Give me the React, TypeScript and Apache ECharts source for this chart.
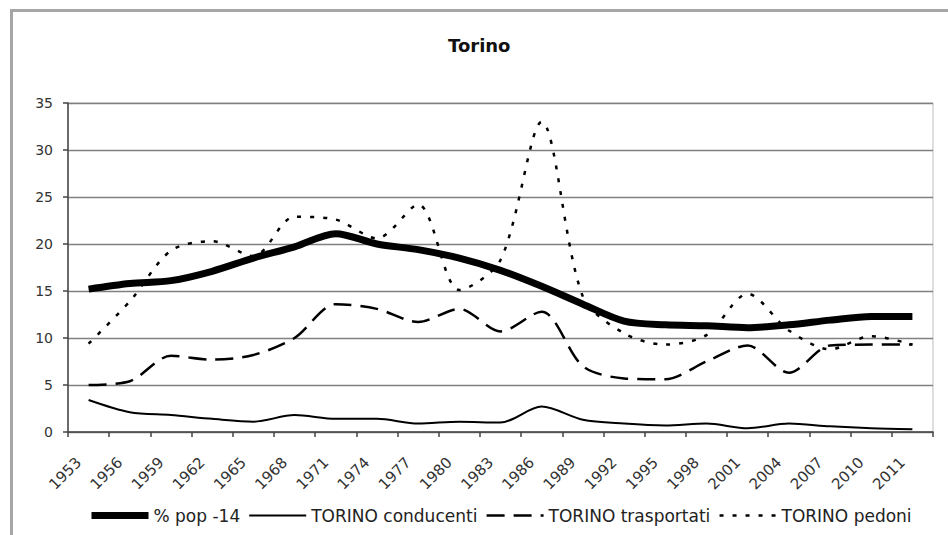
import React, { useEffect, useRef } from "react";
import * as echarts from "echarts";

const years = ["1953","1956","1959","1962","1965","1968","1971","1974","1977","1980","1983","1986","1989","1992","1995","1998","2001","2004","2007","2010","2011"];
const pop14 = [15.2, 15.8, 16.1, 17.1, 18.5, 19.7, 21.1, 20.0, 19.4, 18.5, 17.2, 15.5, 13.6, 11.8, 11.4, 11.3, 11.1, 11.4, 11.9, 12.3, 12.3];
const conducenti = [3.4, 2.1, 1.8, 1.4, 1.1, 1.8, 1.4, 1.4, 0.9, 1.1, 1.0, 2.7, 1.3, 0.9, 0.7, 0.9, 0.4, 0.9, 0.6, 0.4, 0.3];
const trasportati = [5.0, 5.4, 8.1, 7.7, 8.2, 10.0, 13.6, 13.1, 11.7, 13.1, 10.7, 12.8, 7.0, 5.7, 5.6, 7.5, 9.2, 6.3, 9.2, 9.3, 9.3];
const pedoni = [9.4, 13.9, 19.3, 20.3, 18.7, 22.9, 22.6, 20.6, 24.2, 15.1, 18.3, 33.0, 14.4, 10.5, 9.3, 10.3, 14.7, 10.8, 8.8, 10.2, 9.3];
const yTicks = { min: 0, max: 35, interval: 5 };

const FONT = "DejaVu Sans";

export default function App() {
  const ref = useRef<HTMLDivElement>(null);
  useEffect(() => {
    if (!ref.current) return;
    const chart = echarts.init(ref.current, null, { renderer: "svg" });
    chart.setOption({
      animation: false,
      backgroundColor: "#ffffff",
      title: {
        text: "Torino",
        left: 443,
        top: 31,
        textStyle: { fontFamily: FONT, fontSize: 18, fontWeight: "bold", color: "#111" },
      },
      graphic: [
        {
          type: "rect",
          shape: { x: 11.5, y: 10.5, width: 960, height: 560 },
          style: { fill: "none", stroke: "#a6a6a6", lineWidth: 3 },
          silent: true,
        },
      ],
      grid: { left: 68, right: 15, top: 103, bottom: 103, show: true, borderColor: "#bdbdbd", borderWidth: 1 },
      legend: {
        left: 88,
        top: 507,
        padding: 0,
        itemWidth: 57,
        itemHeight: 14,
        itemGap: 8,
        itemStyle: { opacity: 0 },
        lineStyle: { width: "inherit" },
        textStyle: { fontFamily: FONT, fontSize: 17, color: "#222" },
        data: ["% pop -14", "TORINO conducenti", "TORINO trasportati", "TORINO pedoni"],
      },
      xAxis: {
        type: "category",
        data: years,
        boundaryGap: true,
        axisLine: { lineStyle: { color: "#444", width: 1.5 } },
        axisTick: { show: true, length: 5, lineStyle: { color: "#444", width: 1.5 } },
        axisLabel: {
          rotate: 45,
          interval: 0,
          margin: 18,
          padding: [0, 14, 0, 0],
          fontFamily: FONT,
          fontSize: 15,
          color: "#333",
        },
      },
      yAxis: {
        type: "value",
        min: yTicks.min,
        max: yTicks.max,
        interval: yTicks.interval,
        axisLine: { show: true, lineStyle: { color: "#444", width: 1.5 } },
        axisTick: { show: true, length: 5, lineStyle: { color: "#444", width: 1.5 } },
        axisLabel: { margin: 15, fontFamily: FONT, fontSize: 14, color: "#333" },
        splitLine: { lineStyle: { color: "#808080", width: 1.4 } },
      },
      series: [
        {
          name: "% pop -14",
          type: "line",
          data: pop14,
          smooth: 0.3,
          symbol: "none",
          lineStyle: { color: "#000", width: 7 },
          itemStyle: { color: "#000" },
        },
        {
          name: "TORINO conducenti",
          type: "line",
          data: conducenti,
          smooth: 0.3,
          symbol: "none",
          lineStyle: { color: "#000", width: 2 },
          itemStyle: { color: "#000" },
        },
        {
          name: "TORINO trasportati",
          type: "line",
          data: trasportati,
          smooth: 0.3,
          symbol: "none",
          lineStyle: { color: "#000", width: 2.5, type: [18, 9] },
          itemStyle: { color: "#000" },
        },
        {
          name: "TORINO pedoni",
          type: "line",
          data: pedoni,
          smooth: 0.3,
          symbol: "none",
          lineStyle: { color: "#000", width: 2.5, type: [4, 9] },
          itemStyle: { color: "#000" },
        },
      ],
    });
    return () => chart.dispose();
  }, []);
  return (
    <div
      ref={ref}
      style={{ position: "fixed", left: 0, top: 0, width: 948, height: 535, background: "#fff" }}
    />
  );
}
